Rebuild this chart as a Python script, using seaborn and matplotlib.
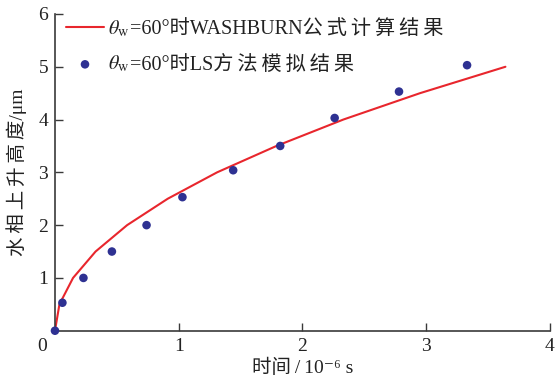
import matplotlib
matplotlib.use('Agg')
import matplotlib.pyplot as plt
import matplotlib.transforms as mtransforms
import seaborn as sns
import pandas as pd

# WASHBURN formula result
t_washburn = [0, 0.036, 0.146, 0.328, 0.583, 0.911, 1.31, 1.79, 2.33, 2.95, 3.64]
h_washburn = [0, 0.5, 1.0, 1.5, 2.0, 2.5, 3.0, 3.5, 4.0, 4.5, 5.0]

# LS method simulation
t_ls = [0, 0.06, 0.23, 0.46, 0.74, 1.03, 1.44, 1.82, 2.26, 2.78, 3.33]
h_ls = [0, 0.53, 1.0, 1.5, 2.0, 2.53, 3.04, 3.5, 4.03, 4.53, 5.03]

x_ticks = [0, 1, 2, 3, 4]
y_ticks = [1, 2, 3, 4, 5, 6]

THIN = '\u2009'


def spaced(s):
    # the original typesetting has loose tracking between CJK characters
    return THIN.join(s)


label_line = '=60°时WASHBURN' + spaced('公式计算结果')
label_dots = '=60°时LS' + spaced('方法模拟结果')
theta_w = r'$\theta_{\rm w}$'
xlabel = '时间' + THIN + '/' + THIN + '10⁻⁶' + ' s'
ylabel = spaced('水相上升高度') + '/μm'

sns.set_theme(style='ticks')
plt.rcParams['font.family'] = ['Liberation Serif', 'Noto Sans CJK SC', 'DejaVu Serif']
plt.rcParams['mathtext.fontset'] = 'stix'
plt.rcParams['axes.unicode_minus'] = False

fs = 14
fs_leg = 14.5
dark = '#3a3a3a'
txt_color = '#222222'

df_w = pd.DataFrame({'t': t_washburn, 'h': h_washburn})
df_ls = pd.DataFrame({'t': t_ls, 'h': h_ls})

fig = plt.figure(figsize=(5.57, 3.85), dpi=100)
ax = fig.add_axes([0.0987, 0.141, 0.8887, 0.8227])

sns.lineplot(data=df_w, x='t', y='h', ax=ax, color='#e8262d', linewidth=1.5,
             label=label_line, sort=False)
sns.scatterplot(data=df_ls, x='t', y='h', ax=ax, color='#2e3192', s=38,
                edgecolor='none', label=label_dots, clip_on=False, zorder=5)

ax.set_xlim(0, 4)
ax.set_ylim(0, 6)
ax.set_xticks(x_ticks)
ax.set_yticks(y_ticks)
ax.set_xticklabels([str(v) for v in x_ticks])
ax.set_yticklabels([str(v) for v in y_ticks])

ax.tick_params(direction='in', length=6, width=1, color=dark, labelsize=fs,
               labelcolor=txt_color)
ax.tick_params(axis='x', pad=5)
ax.tick_params(axis='y', pad=5)

for side in ['top', 'right']:
    ax.spines[side].set_visible(False)
for side in ['left', 'bottom']:
    ax.spines[side].set_color(dark)
    ax.spines[side].set_linewidth(1.2)

# corner "0" label sits a bit left of the origin
ax.xaxis.get_major_ticks()[0].tick1line.set_visible(False)
lbl0 = ax.get_xticklabels()[0]
lbl0.set_transform(lbl0.get_transform() +
                   mtransforms.ScaledTranslation(-0.13, 0, fig.dpi_scale_trans))

ax.set_xlabel(xlabel, fontsize=fs, color=txt_color, labelpad=3)
ax.set_ylabel(ylabel, fontsize=fs, color=txt_color, labelpad=8)

leg = ax.legend(loc='upper left', bbox_to_anchor=(0.022, 0.98), frameon=False,
                fontsize=fs_leg, borderaxespad=0, borderpad=0, handlelength=1.9,
                handletextpad=1.3, labelspacing=0.8, scatterpoints=1)
for txt in leg.get_texts():
    txt.set_color(txt_color)

# theta_w goes in front of each legend label (mathtext can't hold the CJK part)
fig.canvas.draw()
for txt in leg.get_texts():
    bb = txt.get_window_extent()
    fig.text(bb.x0 - 1, (bb.y0 + bb.y1) / 2 + 1, theta_w, transform=None,
             ha='right', va='center', fontsize=fs_leg, color=txt_color)

fig.savefig('out.png', dpi=100)
